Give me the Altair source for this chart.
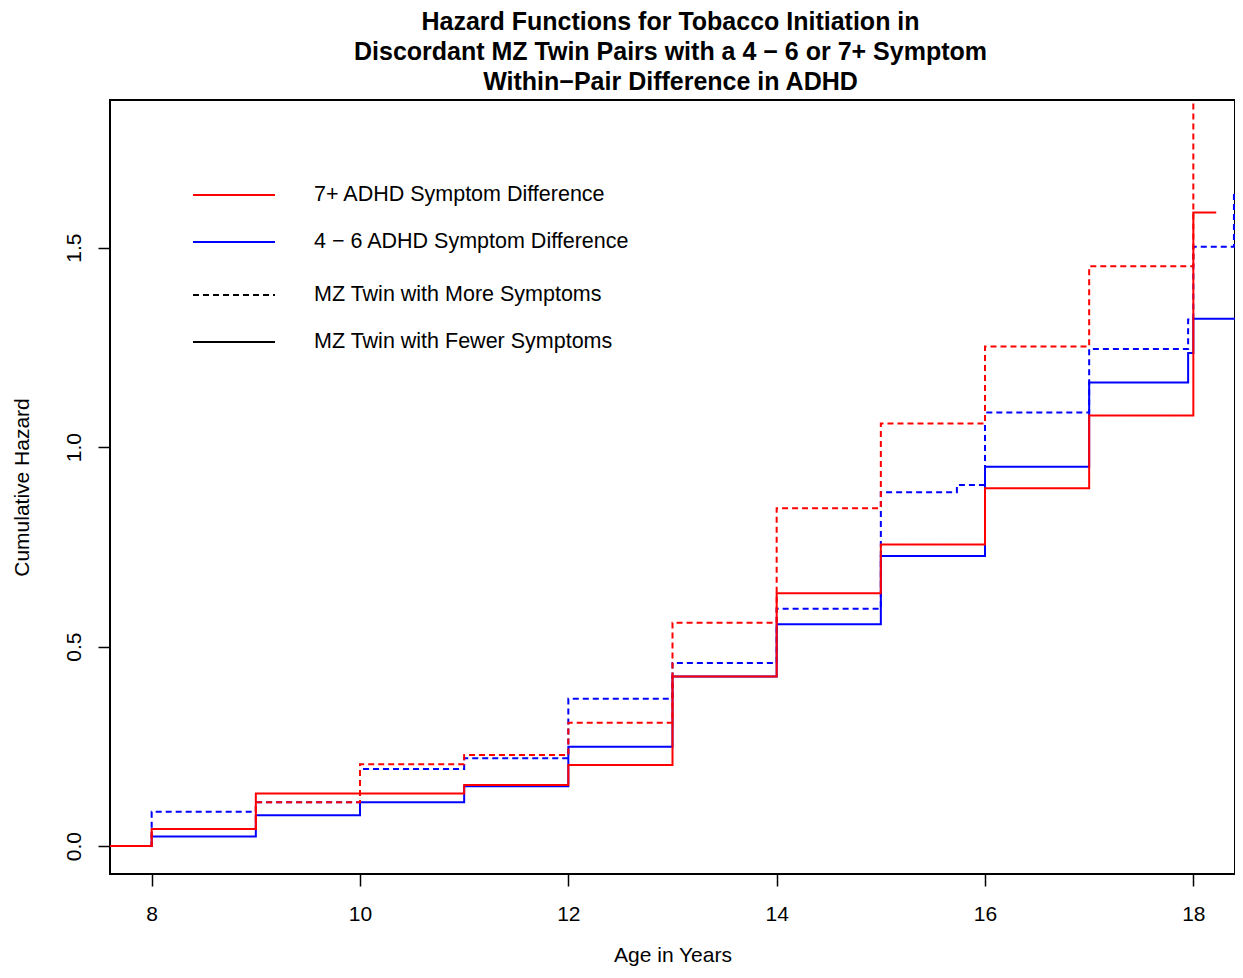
import altair as alt
import pandas as pd

# ---- data (age in years, cumulative hazard) ----
red_fewer_x = [7.6, 8, 9, 11, 12, 13, 14, 15, 16, 17, 18, 18.22]
red_fewer_y = [0.0, 0.043, 0.132, 0.153, 0.203, 0.425, 0.634, 0.756, 0.897, 1.079, 1.588, 1.588]

red_more_x = [7.6, 8, 9, 10, 11, 12, 13, 14, 15, 16, 17, 18, 18.5]
red_more_y = [0.0, 0.043, 0.110, 0.205, 0.228, 0.309, 0.560, 0.847, 1.059, 1.252, 1.453, 2.0, 2.0]

blue_fewer_x = [7.6, 8, 9, 10, 11, 12, 13, 14, 15, 16, 17, 17.95, 18, 18.5]
blue_fewer_y = [0.0, 0.024, 0.077, 0.110, 0.150, 0.249, 0.425, 0.556, 0.727, 0.951, 1.162, 1.236, 1.322, 1.322]

blue_more_x = [7.6, 8, 9, 10, 11, 12, 13, 14, 15, 15.73, 16, 17, 17.95, 18, 18.39, 18.5]
blue_more_y = [0.0, 0.086, 0.110, 0.193, 0.220, 0.369, 0.459, 0.595, 0.887, 0.905, 1.087, 1.246, 1.320, 1.502, 1.64, 1.64]

legend_labels = [
    "7+ ADHD Symptom Difference",
    "4 \u2212 6 ADHD Symptom Difference",
    "MZ Twin with More Symptoms",
    "MZ Twin with Fewer Symptoms",
]
title_lines = [
    "Hazard Functions for Tobacco Initiation in",
    "Discordant MZ Twin Pairs with a 4 \u2212 6 or 7+ Symptom",
    "Within\u2212Pair Difference in ADHD",
]
x_ticks = [8, 10, 12, 14, 16, 18]
y_ticks = [0.0, 0.5, 1.0, 1.5]

FONT = "Liberation Sans"
W, H = 1125, 774

x_scale = alt.Scale(domain=[7.6, 18.4], nice=False, zero=False)
y_scale = alt.Scale(domain=[-0.07, 1.87], nice=False, zero=False)

x_axis = alt.Axis(
    title="Age in Years", values=x_ticks, format="d", grid=False, domain=False,
    tickColor="black", tickSize=12, tickWidth=1.5,
    labelFont=FONT, labelFontSize=21, labelColor="black", labelPadding=17,
    labelBaseline="top", labelAlign="center",
    titleFont=FONT, titleFontSize=21, titleFontWeight="normal", titleColor="black",
    titleX=W / 2, titleY=81, titleBaseline="middle", titleAlign="center",
)
y_axis = alt.Axis(
    title="Cumulative Hazard", values=y_ticks, format=".1f", grid=False, domain=False,
    tickColor="black", tickSize=12, tickWidth=1.5,
    labelFont=FONT, labelFontSize=21, labelColor="black", labelPadding=14,
    labelAngle=270, labelAlign="center", labelBaseline="bottom",
    titleFont=FONT, titleFontSize=21, titleFontWeight="normal", titleColor="black",
    titleX=-88, titleY=H / 2, titleBaseline="middle", titleAlign="center", titleAngle=270,
)


def step_layer(xs, ys, color, dash):
    df = pd.DataFrame({"age": xs, "hazard": ys})
    return alt.Chart(df).mark_line(
        interpolate="step-after", color=color, strokeWidth=2,
        strokeDash=dash, clip=True
    ).encode(
        x=alt.X("age:Q", scale=x_scale, axis=x_axis),
        y=alt.Y("hazard:Q", scale=y_scale, axis=y_axis),
    )


DASH = [6, 4]
SOLID = [1, 0]

layers = [
    step_layer(blue_more_x, blue_more_y, "#0000ff", DASH),
    step_layer(blue_fewer_x, blue_fewer_y, "#0000ff", SOLID),
    step_layer(red_more_x, red_more_y, "#ff0000", DASH),
    step_layer(red_fewer_x, red_fewer_y, "#ff0000", SOLID),
]

# ---- manual legend (inside plot, top-left) ----
leg_rows_y = [95, 142, 195, 242]
leg_colors = ["#ff0000", "#0000ff", "black", "black"]
leg_dash = [SOLID, SOLID, DASH, SOLID]
base = alt.Chart(pd.DataFrame({"k": [0]}))
for lab, yy, col, dsh in zip(legend_labels, leg_rows_y, leg_colors, leg_dash):
    layers.append(
        base.mark_rule(color=col, strokeWidth=2, strokeDash=dsh).encode(
            x=alt.value(83), x2=alt.value(165), y=alt.value(yy)
        )
    )
    layers.append(
        base.mark_text(align="left", baseline="middle", font=FONT, fontSize=21.5, color="black").encode(
            x=alt.value(204), y=alt.value(yy), text=alt.value(lab)
        )
    )

chart = alt.layer(*layers).properties(
    width=W, height=H,
    title=alt.TitleParams(
        text=title_lines, font=FONT, fontSize=25, fontWeight="bold", color="black",
        lineHeight=30, anchor="middle", offset=5, dx=-2,
    ),
    autosize=alt.AutoSizeParams(type="none"),
    padding={"left": 102, "top": 92, "right": 0, "bottom": 92},
).configure_view(
    stroke="black", strokeWidth=2, fill="white"
)

chart.save("out.html", embed_options={"renderer": "svg", "actions": False})
